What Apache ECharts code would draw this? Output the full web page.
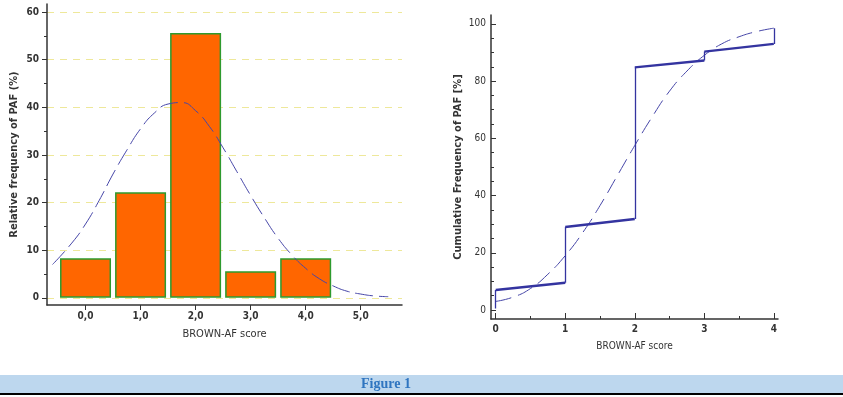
<!DOCTYPE html>
<html>
<head>
<meta charset="utf-8">
<script src="https://cdn.jsdelivr.net/npm/echarts@6/dist/echarts.min.js"></script>
<style>
    html, body { margin: 0; padding: 0; background: #fff; }
    #main { width: 843px; height: 397px; }
</style>
</head>
<body>
<div id="main"></div>
<script>
    // histogram of BROWN-AF score (left)
    var barX = [0, 1, 2, 3, 4];
    var barPct = [8.3, 22.2, 55.6, 5.6, 8.3];
    // fitted normal curve (left, dashed)
    var normX = [-0.6, -0.25, 0, 0.25, 0.5, 0.75, 1, 1.25, 1.5, 1.75, 2, 2.25, 2.5, 2.75, 3, 3.25, 3.5, 3.75, 4, 4.25, 4.5, 4.75, 5, 5.25, 5.5];
    var normY = [7, 11.5, 15.5, 20.5, 26, 31, 35.5, 38.8, 40.7, 41, 39.3, 36, 31.5, 26.5, 21.5, 16.8, 12.5, 9, 6.2, 4, 2.5, 1.4, 0.8, 0.4, 0.25];
    // cumulative frequency steps (right, solid)
    var stepX = [0, 0, 1, 1, 2, 2, 3, 3, 4, 4];
    var stepY = [0.5, 7, 9.5, 29, 31.8, 84.8, 87.2, 90.3, 93, 98.5];
    // fitted cumulative curve (right, dashed)
    var cdfX = [0, 0.25, 0.5, 0.75, 1, 1.25, 1.5, 1.75, 2, 2.25, 2.5, 2.75, 3, 3.25, 3.5, 3.75, 4];
    var cdfY = [3, 4.5, 7.5, 12.5, 19, 27, 36.5, 47, 57.5, 67.5, 76.5, 83.5, 89, 93, 95.5, 97.3, 98.5];
    // tick labels
    var leftXTicks = [0, 1, 2, 3, 4, 5];
    var leftYTicks = [0, 10, 20, 30, 40, 50, 60];
    var leftYMinor = [5, 15, 25, 35, 45, 55];
    var rightXTicks = [0, 1, 2, 3, 4];
    var rightXMinor = [0.5, 1.5, 2.5, 3.5];
    var rightYTicks = [0, 20, 40, 60, 80, 100];
    var rightYMinor = [5, 10, 15, 25, 30, 35, 45, 50, 55, 65, 70, 75, 85, 90, 95];

    var FONT = '"Liberation Sans Narrow", "DejaVu Sans Condensed", "Liberation Sans", sans-serif';
    var AXIS_COLOR = '#333';
    var BLUE = '#3434a0';

    function zip(xs, ys) {
        return xs.map(function (x, i) { return [x, ys[i]]; });
    }

    // split step points into horizontal and vertical segments
    var hSeg = [], vSeg = [];
    for (var i = 0; i < stepX.length - 1; i++) {
        var seg = { coords: [[stepX[i], stepY[i]], [stepX[i + 1], stepY[i + 1]]] };
        if (stepX[i] === stepX[i + 1]) vSeg.push(seg); else hSeg.push(seg);
    }

    var myChart = echarts.init(document.getElementById('main'));

    myChart.setOption({
        animation: false,
        backgroundColor: '#fff',
        textStyle: { fontFamily: FONT },
        grid: [
            { left: 47, top: 4, width: 355, height: 301 },
            { left: 491, top: 15, width: 287, height: 304 }
        ],
        xAxis: [
            {
                gridIndex: 0, type: 'value', min: -0.7, max: 5.75, position: 'bottom',
                name: 'BROWN-AF score', nameLocation: 'middle', nameGap: 24,
                nameTextStyle: { fontSize: 11, color: '#333', fontFamily: FONT },
                axisLine: { onZero: false, lineStyle: { color: AXIS_COLOR, width: 1.5 } },
                axisTick: { customValues: leftXTicks, length: 5, lineStyle: { color: AXIS_COLOR } },
                axisLabel: {
                    customValues: leftXTicks, margin: 6, fontSize: 10, fontWeight: 'bold', color: '#333',
                    formatter: function (v) { return v.toFixed(1).replace('.', ','); }
                },
                splitLine: { show: false }
            },
            {
                gridIndex: 1, type: 'value', min: -0.068, max: 4.06, position: 'bottom',
                name: 'BROWN-AF score', nameLocation: 'middle', nameGap: 22,
                nameTextStyle: { fontSize: 10, color: '#333', fontFamily: FONT },
                axisLine: { onZero: false, lineStyle: { color: AXIS_COLOR, width: 1.5 } },
                axisTick: { customValues: rightXTicks, inside: true, length: 6, lineStyle: { color: AXIS_COLOR } },
                axisLabel: { customValues: rightXTicks, margin: 5, fontSize: 10, fontWeight: 'bold', color: '#333' },
                splitLine: { show: false }
            },
            {
                gridIndex: 1, type: 'value', min: -0.068, max: 4.06, position: 'bottom',
                axisLine: { show: false, onZero: false },
                axisTick: { customValues: rightXMinor, inside: true, length: 3, lineStyle: { color: AXIS_COLOR } },
                axisLabel: { show: false },
                splitLine: { show: false }
            }
        ],
        yAxis: [
            {
                gridIndex: 0, type: 'value', min: -1.5, max: 61.7, position: 'left',
                name: 'Relative frequency of PAF (%)', nameLocation: 'middle', nameGap: 27,
                nameTextStyle: { fontSize: 11, fontWeight: 'bold', color: '#333', fontFamily: FONT },
                axisLine: { onZero: false, lineStyle: { color: AXIS_COLOR, width: 1.5 } },
                axisTick: { customValues: leftYTicks, length: 5, lineStyle: { color: AXIS_COLOR } },
                axisLabel: { customValues: leftYTicks, margin: 8, fontSize: 10, fontWeight: 'bold', color: '#333' },
                splitLine: { show: false }
            },
            {
                gridIndex: 0, type: 'value', min: -1.5, max: 61.7, position: 'left',
                axisLine: { show: false, onZero: false },
                axisTick: { customValues: leftYMinor, length: 3, lineStyle: { color: AXIS_COLOR } },
                axisLabel: { show: false },
                splitLine: { show: false }
            },
            {
                gridIndex: 1, type: 'value', min: -3.15, max: 103.1, position: 'left',
                name: 'Cumulative Frequency of PAF [%]', nameLocation: 'middle', nameGap: 27,
                nameTextStyle: { fontSize: 11, fontWeight: 'bold', color: '#333', fontFamily: FONT },
                axisLine: { onZero: false, lineStyle: { color: AXIS_COLOR, width: 1.5 } },
                axisTick: { customValues: rightYTicks, inside: true, length: 5, lineStyle: { color: AXIS_COLOR } },
                axisLabel: { customValues: rightYTicks, margin: 5, fontSize: 10, color: '#333' },
                splitLine: { show: false }
            },
            {
                gridIndex: 1, type: 'value', min: -3.15, max: 103.1, position: 'left',
                axisLine: { show: false, onZero: false },
                axisTick: { customValues: rightYMinor, inside: true, length: 3, lineStyle: { color: AXIS_COLOR } },
                axisLabel: { show: false },
                splitLine: { show: false }
            }
        ],
        series: [
            {
                // yellow dashed gridlines, behind the bars
                type: 'line', xAxisIndex: 0, yAxisIndex: 0, data: [], z: 0,
                markLine: {
                    silent: true, symbol: 'none', animation: false, z: 0,
                    label: { show: false },
                    lineStyle: { color: '#eee89a', type: [7, 6], width: 1 },
                    data: leftYTicks.map(function (v) { return { yAxis: v }; })
                }
            },
            {
                type: 'bar', xAxisIndex: 0, yAxisIndex: 0, z: 2,
                barWidth: 51,
                data: zip(barX, barPct),
                itemStyle: { color: '#ff6600', borderColor: '#2e9a2e', borderWidth: 1.5 }
            },
            {
                type: 'line', xAxisIndex: 0, yAxisIndex: 0, z: 3,
                data: zip(normX, normY), smooth: true, showSymbol: false,
                lineStyle: { color: '#4646a8', width: 1, type: [18, 6] }
            },
            {
                type: 'line', xAxisIndex: 1, yAxisIndex: 2, z: 3,
                data: zip(cdfX, cdfY), smooth: true, showSymbol: false,
                lineStyle: { color: '#4646a8', width: 1, type: [16, 7] }
            },
            {
                type: 'lines', coordinateSystem: 'cartesian2d', xAxisIndex: 1, yAxisIndex: 2, z: 4,
                data: hSeg,
                lineStyle: { color: BLUE, width: 2.4, opacity: 1 }
            },
            {
                type: 'lines', coordinateSystem: 'cartesian2d', xAxisIndex: 1, yAxisIndex: 2, z: 4,
                data: vSeg,
                lineStyle: { color: BLUE, width: 1.3, opacity: 1 }
            }
        ],
        graphic: [
            { type: 'rect', shape: { x: 0, y: 375, width: 843, height: 18 }, style: { fill: '#bdd7ee' } },
            { type: 'rect', shape: { x: 0, y: 393, width: 843, height: 2 }, style: { fill: '#000' } },
            {
                type: 'text', x: 386, y: 384,
                style: {
                    text: 'Figure 1', fill: '#2f75c0', font: 'bold 14px "Liberation Serif", serif',
                    align: 'center', verticalAlign: 'middle'
                }
            }
        ]
    });
</script>
</body>
</html>
